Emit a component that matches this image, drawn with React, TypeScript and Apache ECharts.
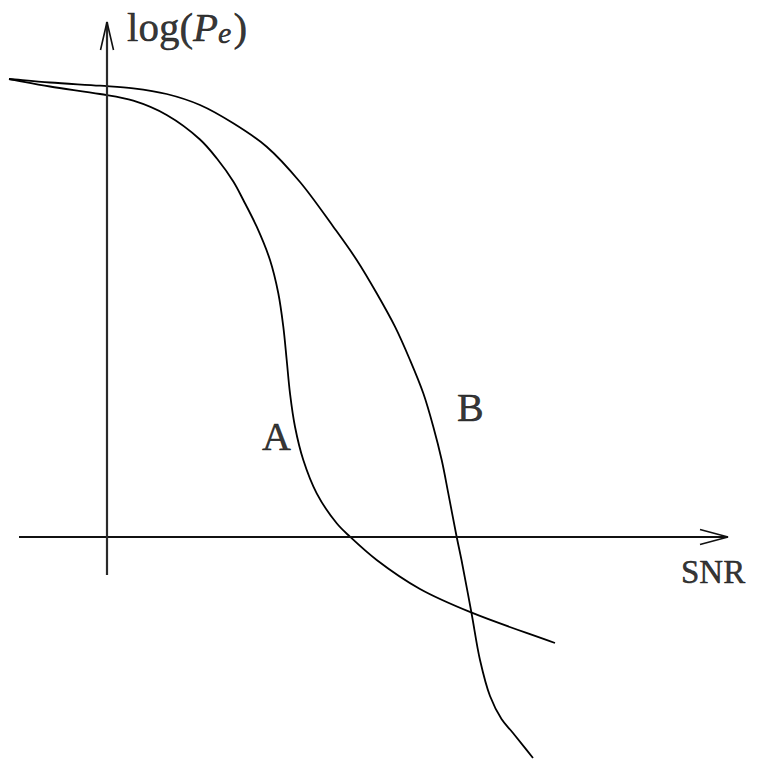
import React, { useEffect, useRef } from "react";
import * as echarts from "echarts";

// Chart-space coordinates (x to the right, y downward)
const curveA: [number, number][] = [
  [9, 79], [50, 86.5], [100, 94], [133.3, 100.7], [166.7, 115], [200, 139.5], [216.7, 158.3],
  [233.3, 181.5], [243.3, 200], [256.7, 226.7], [270, 260], [278.3, 293.3], [283.3, 326.7],
  [286.7, 360], [290, 393.3], [295, 426.7], [303.3, 460], [316.7, 493.3], [336.7, 523.3],
  [350, 536.7], [376.7, 560], [420, 589], [471.7, 612.7], [555, 643],
];
const curveB: [number, number][] = [
  [9, 79], [50, 82.5], [100, 85.7], [133.3, 88.3], [166.7, 94], [200, 105], [233.3, 123.3],
  [266.7, 146.7], [300, 182], [333.3, 226.7], [356.7, 260], [376.7, 293.3], [395, 326.7],
  [410, 360], [423.3, 393.3], [433.3, 426.7], [441.7, 460], [448.3, 493.3], [456.7, 537],
  [461.5, 560], [471.5, 613], [480, 660], [490, 696], [501.5, 719], [513, 733], [533, 758],
];
const xAxisLine: [number, number][] = [[19, 537], [728, 537]];
const xArrow: [number, number][] = [[700, 529.5], [728, 537], [700, 544.5]];
const yAxisLine: [number, number][] = [[107, 575], [107, 22]];
const yArrow: [number, number][] = [[100.5, 50], [107, 22], [113.5, 50]];

const curveLabels = ["A", "B"];
const curveLabelAnchors: [number, number][] = [[262, 436.5], [457, 407.5]];
const snrLabel = "SNR";
const snrAnchor: [number, number] = [681, 572];
const yTitle = "{a|log(}{p|P}{s|e}{a|)}";
const yTitleAnchor: [number, number] = [127, 26.5];

// centripetal Catmull-Rom spline through pixel points, as cubic Beziers
function splinePath(pts: number[][]): string {
  const n = pts.length;
  const get = (i: number): number[] => {
    if (i < 0) return [2 * pts[0][0] - pts[1][0], 2 * pts[0][1] - pts[1][1]];
    if (i > n - 1) return [2 * pts[n - 1][0] - pts[n - 2][0], 2 * pts[n - 1][1] - pts[n - 2][1]];
    return pts[i];
  };
  const dist = (a: number[], b: number[]) => Math.max(1e-6, Math.pow(Math.hypot(a[0] - b[0], a[1] - b[1]), 0.5));
  let d = `M${pts[0][0]},${pts[0][1]}`;
  for (let i = 0; i < n - 1; i++) {
    const p0 = get(i - 1), p1 = get(i), p2 = get(i + 1), p3 = get(i + 2);
    const d1 = dist(p0, p1), d2 = dist(p1, p2), d3 = dist(p2, p3);
    const c1 = [0, 1].map(
      (k) => (d1 * d1 * p2[k] - d2 * d2 * p0[k] + (2 * d1 * d1 + 3 * d1 * d2 + d2 * d2) * p1[k]) / (3 * d1 * (d1 + d2))
    );
    const c2 = [0, 1].map(
      (k) => (d3 * d3 * p1[k] - d2 * d2 * p3[k] + (2 * d3 * d3 + 3 * d3 * d2 + d2 * d2) * p2[k]) / (3 * d3 * (d3 + d2))
    );
    d += ` C${c1[0]},${c1[1]} ${c2[0]},${c2[1]} ${p2[0]},${p2[1]}`;
  }
  return d;
}

export default function App() {
  const ref = useRef<HTMLDivElement>(null);
  useEffect(() => {
    document.body.style.margin = "0";
    if (!ref.current) return;
    const chart = echarts.init(ref.current, null, { renderer: "svg" });
    const font = "'Liberation Serif', 'Times New Roman', serif";
    const lineSeries = (data: [number, number][], color: string, width: number) => ({
      type: "line",
      data,
      symbol: "none",
      silent: true,
      lineStyle: { color, width },
      z: 2,
    });
    const curveSeries = (data: [number, number][]) => ({
      type: "custom",
      coordinateSystem: "cartesian2d",
      silent: true,
      data,
      encode: { x: 0, y: 1 },
      renderItem: (params: any, api: any) => {
        if (params.dataIndex !== 0) return null;
        const pts = data.map((p) => api.coord(p));
        return {
          type: "path",
          shape: { pathData: splinePath(pts) },
          style: { fill: "none", stroke: "#000", lineWidth: 1.8 },
        };
      },
      z: 2,
    });
    const textBase = {
      show: true,
      position: "inside",
      align: "left",
      verticalAlign: "middle",
      fontFamily: font,
      color: "#000",
      textBorderWidth: 0.5,
      textBorderColor: "#000",
    };
    const labelSeries = (data: [number, number][], texts: string[], size: number, extra: any = {}) => ({
      type: "scatter",
      symbolSize: 0,
      silent: true,
      data: data.map((d, i) => ({
        value: d,
        label: { ...textBase, formatter: texts[i], fontSize: size, ...extra },
      })),
      z: 3,
    });
    chart.setOption({
      animation: false,
      backgroundColor: "#fff",
      grid: { left: 0, right: 0, top: 0, bottom: 0 },
      xAxis: { type: "value", min: 0, max: 761, show: false },
      yAxis: { type: "value", min: 0, max: 759, inverse: true, show: false },
      series: [
        lineSeries(xAxisLine, "#111", 2),
        lineSeries(xArrow, "#111", 1.6),
        lineSeries(yAxisLine, "#2a2a2a", 2.2),
        lineSeries(yArrow, "#111", 1.6),
        curveSeries(curveA),
        curveSeries(curveB),
        labelSeries(curveLabelAnchors, curveLabels, 40),
        labelSeries([snrAnchor], [snrLabel], 33),
        labelSeries([yTitleAnchor], [yTitle], 41, {
          rich: {
            a: { fontFamily: font, fontSize: 41, lineHeight: 41, color: "#000", textBorderWidth: 0.5, textBorderColor: "#000" },
            p: { fontFamily: font, fontSize: 41, lineHeight: 41, fontStyle: "italic", color: "#000", textBorderWidth: 0.5, textBorderColor: "#000" },
            s: {
              fontFamily: font, fontSize: 30, lineHeight: 12, fontStyle: "italic", verticalAlign: "bottom",
              color: "#000", textBorderWidth: 0.5, textBorderColor: "#000", padding: [0, 2, 0, 0],
            },
          },
        }),
      ],
    });
    return () => chart.dispose();
  }, []);
  return <div ref={ref} style={{ width: 761, height: 759 }} />;
}
